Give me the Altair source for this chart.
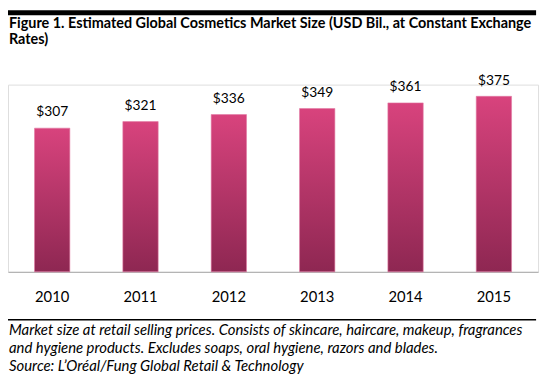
import altair as alt
import pandas as pd

years = ["2010", "2011", "2012", "2013", "2014", "2015"]
values = [307, 321, 336, 349, 361, 375]
labels = ["$307", "$321", "$336", "$349", "$361", "$375"]

title_lines = [
    "Figure 1. Estimated Global Cosmetics Market Size (USD Bil., at Constant Exchange",
    "Rates)",
]
footer_lines = [
    "Market size at retail selling prices. Consists of skincare, haircare, makeup, fragrances",
    "and hygiene products. Excludes soaps, oral hygiene, razors and blades.",
    "Source: L\u2019Or\u00e9al/Fung Global Retail & Technology",
]

FONT = "Lato"
df = pd.DataFrame({"year": years, "value": values, "label": labels})

gradient = {
    "gradient": "linear",
    "x1": 0, "x2": 0, "y1": 0, "y2": 1,
    "stops": [
        {"offset": 0, "color": "#D8437D"},
        {"offset": 1, "color": "#8E2752"},
    ],
}

xenc = alt.X(
    "year:N",
    sort=years,
    scale=alt.Scale(paddingInner=0.6, paddingOuter=0.3),
    axis=alt.Axis(
        title=None, ticks=False, domainColor="#A6A6A6", domainWidth=1,
        labelFont=FONT, labelFontSize=15, labelColor="#000000",
        labelBaseline="alphabetic", labelPadding=30, labelAngle=0,
    ),
)
yenc = alt.Y(
    "value:Q",
    scale=alt.Scale(domain=[0, 400], nice=False),
    axis=None,
)

bars = alt.Chart(df).mark_bar(color=gradient, stroke="#E27AA3", strokeWidth=0.6).encode(
    x=xenc, y=yenc
)
vals = alt.Chart(df).mark_text(
    font=FONT, fontSize=14, color="#000000", baseline="alphabetic", dy=-12
).encode(x=xenc, y=yenc, text="label:N")

one = pd.DataFrame({"a": [0]})

def line_text(txt, y, bold=False, italic=False, size=14):
    return alt.Chart(pd.DataFrame({"t": [txt]})).mark_text(
        font=FONT, fontSize=size, fontWeight="bold" if bold else "normal",
        fontStyle="italic" if italic else "normal", align="left",
        baseline="alphabetic", color="#000000",
    ).encode(x=alt.value(1), y=alt.value(y), text="t:N")

top_bar = alt.Chart(one).mark_rule(color="#000000", strokeWidth=5).encode(
    x=alt.value(-3), x2=alt.value(536), y=alt.value(-73)
)
sep = alt.Chart(one).mark_rule(color="#000000", strokeWidth=1.5).encode(
    x=alt.value(-3), x2=alt.value(536), y=alt.value(238.7)
)

layers = [bars, vals, top_bar, sep,
          line_text(title_lines[0], -57.2, bold=True, size=14.6),
          line_text(title_lines[1], -40.8, bold=True, size=14.6),
          line_text(footer_lines[0], 253.7, italic=True, size=15.1),
          line_text(footer_lines[1], 272, italic=True, size=15.1),
          line_text(footer_lines[2], 290.3, italic=True, size=15.1)]

chart = alt.layer(*layers).properties(
    width=538, height=190,
    padding={"left": 0, "top": 75, "right": 4, "bottom": 105},
    autosize="none",
).configure_view(stroke=None).configure(background="white")

chart.save("out.html", embed_options={"renderer": "svg", "actions": False})
